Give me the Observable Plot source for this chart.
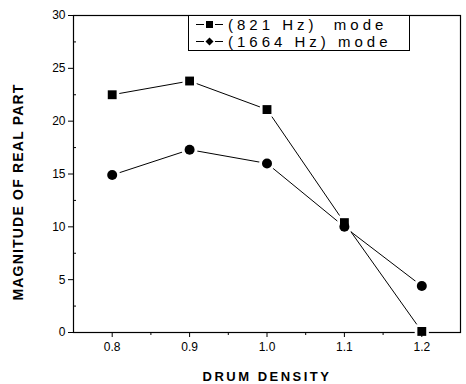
<!DOCTYPE html>
<html><head><meta charset="utf-8">
<script src="https://cdn.jsdelivr.net/npm/d3@7"></script>
<script src="https://cdn.jsdelivr.net/npm/@observablehq/plot@0.6"></script>
<style>
body{margin:0;background:#fff;}
#wrap{position:relative;width:466px;height:384px;font-family:Arial,"Liberation Sans",sans-serif;}
#legend{position:absolute;left:188px;top:15px;width:222px;height:36px;border:1px solid #000;background:#fff;box-sizing:border-box;font-size:15px;letter-spacing:4px;line-height:17px;padding-left:6px;padding-top:0px;}
#legend div{white-space:pre;display:flex;align-items:center;height:17px;}
#legend svg{margin-right:3px;}
</style></head>
<body><div id="wrap"><div id="chart"></div><div id="legend"></div></div>
<script>
const density = [0.8, 0.9, 1.0, 1.1, 1.2];
const mode821 = [22.5, 23.8, 21.1, 10.4, 0.1];
const mode1664 = [14.9, 17.3, 16.0, 10.0, 4.4];
const seriesNames = ["(821 Hz)  mode", "(1664 Hz) mode"];
const xTicks = [0.8, 0.9, 1.0, 1.1, 1.2];
const yTicks = [0, 5, 10, 15, 20, 25, 30];
const xTitle = "DRUM DENSITY";
const yTitle = "MAGNITUDE OF REAL PART";

const data = [];
density.forEach((d, i) => {
  data.push({x: d, y: mode821[i], s: seriesNames[0]});
  data.push({x: d, y: mode1664[i], s: seriesNames[1]});
});
const s1 = data.filter(d => d.s === seriesNames[0]);
const s2 = data.filter(d => d.s === seriesNames[1]);
const minorX = [0.85, 0.95, 1.05, 1.15];
const minorY = [2.5, 7.5, 12.5, 17.5, 22.5, 27.5];

const plot = Plot.plot({
  width: 466, height: 384,
  marginLeft: 73, marginRight: 6, marginTop: 15, marginBottom: 52,
  style: {fontFamily: "Arial, 'Liberation Sans', sans-serif", fontSize: "12px", color: "#000", background: "#fff"},
  x: {domain: [0.75, 1.25], label: null},
  y: {domain: [0, 30], label: null},
  marks: [
    Plot.frame({stroke: "#000", strokeWidth: 1.2}),
    Plot.line(s1, {x: "x", y: "y", stroke: "#000", strokeWidth: 1}),
    Plot.line(s2, {x: "x", y: "y", stroke: "#000", strokeWidth: 1}),
    Plot.dot(s1, {x: "x", y: "y", symbol: "square", r: 8, fill: "#fff", stroke: "none"}),
    Plot.dot(s2, {x: "x", y: "y", symbol: "circle", r: 8, fill: "#fff", stroke: "none"}),
    Plot.dot(s1, {x: "x", y: "y", symbol: "square", r: 5, fill: "#000"}),
    Plot.dot(s2, {x: "x", y: "y", symbol: "circle", r: 5, fill: "#000"}),
    Plot.axisX({ticks: xTicks, tickFormat: d3.format(".1f"), tickSize: 5, tickPadding: 5, label: null}),
    Plot.axisY({ticks: yTicks, tickSize: 5, tickPadding: 3, label: null}),
    Plot.axisY({ticks: minorY, tickSize: -3, tickFormat: () => "", label: null}),
    Plot.axisX({ticks: minorX, tickSize: 3, tickFormat: () => "", label: null}),
    Plot.text([xTitle], {frameAnchor: "bottom", textAnchor: "middle", lineAnchor: "middle", dy: 44, fontWeight: "bold", fontSize: 13, className: "xtitle"}),
    Plot.text([yTitle], {frameAnchor: "left", textAnchor: "middle", lineAnchor: "middle", dx: -55, dy: 18, rotate: -90, fontWeight: "bold", fontSize: 14, className: "ytitle"})
  ]
});
d3.select(plot).selectAll(".xtitle text").attr("letter-spacing", "2.5px");
d3.select(plot).selectAll(".ytitle text").attr("letter-spacing", "1.2px");
document.getElementById("chart").appendChild(plot);

const legend = document.getElementById("legend");
const syms = ["square", "diamond"];
seriesNames.forEach((n, i) => {
  const row = document.createElement("div");
  const sym = syms[i] === "square"
    ? '<rect x="11" y="4" width="7" height="7" fill="#000"/>'
    : '<path d="M14.5 3.5 L18.5 7.5 L14.5 11.5 L10.5 7.5 Z" fill="#000"/>';
  row.innerHTML = '<svg width="30" height="15"><line x1="1" y1="7.5" x2="9" y2="7.5" stroke="#000"/><line x1="20" y1="7.5" x2="28" y2="7.5" stroke="#000"/>' + sym + '</svg><span>' + n + '</span>';
  legend.appendChild(row);
});
</script></body></html>
